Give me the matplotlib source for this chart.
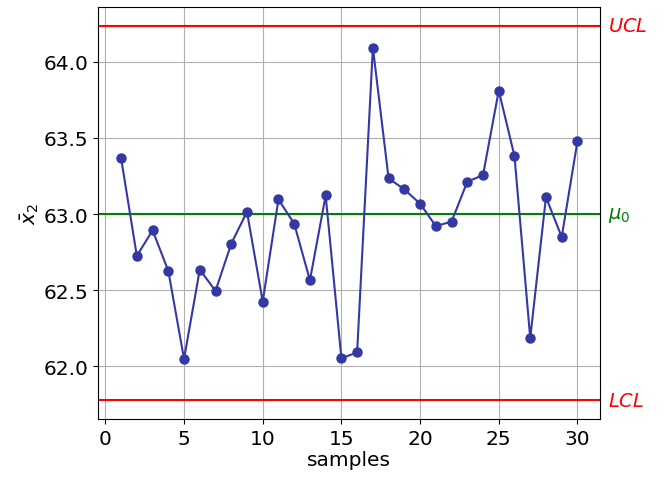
import matplotlib
matplotlib.use("Agg")
import matplotlib.pyplot as plt
import numpy as np

# sample means
samples = np.arange(1, 31)
xbar2 = [63.367, 62.725, 62.893, 62.627, 62.048, 62.635, 62.495, 62.805, 63.015, 62.425,
         63.096, 62.937, 62.565, 63.122, 62.052, 62.091, 64.094, 63.234, 63.162, 63.068,
         62.921, 62.950, 63.212, 63.256, 63.811, 63.380, 62.185, 63.111, 62.849, 63.478]
mu0 = 63.0
ucl = 64.236
lcl = 61.777

fig = plt.figure(figsize=(6.64, 4.81), dpi=100)
ax = fig.add_axes([0.148, 0.127, 0.756, 0.856])

ax.plot(samples, xbar2, "o-", color="#3438a4", markersize=6.5, linewidth=1.5, zorder=3)
ax.axhline(ucl, color="red", linewidth=1.5)
ax.axhline(mu0, color="green", linewidth=1.5)
ax.axhline(lcl, color="red", linewidth=1.5)

span = ucl - lcl
ax.set_ylim(lcl - 0.05 * span, ucl + 0.05 * span)
ax.set_xlim(-0.45, 31.45)
ax.set_yticks([62.0, 62.5, 63.0, 63.5, 64.0])
ax.grid(True, color="#b0b0b0", linewidth=0.8)
ax.tick_params(labelsize=14.5)

ax.set_xlabel("samples", fontsize=14.5, labelpad=2)
ax.set_ylabel(r"$\bar{x}_2$", fontsize=14.5, labelpad=2)

trans = ax.get_yaxis_transform()
ax.text(1.015, ucl, r"$UCL$", color="red", fontsize=14, va="center", transform=trans)
ax.text(1.015, mu0, r"$\mu_0$", color="green", fontsize=14, va="center", transform=trans)
ax.text(1.015, lcl, r"$LCL$", color="red", fontsize=14, va="center", transform=trans)

fig.savefig("out.png", dpi=100)
